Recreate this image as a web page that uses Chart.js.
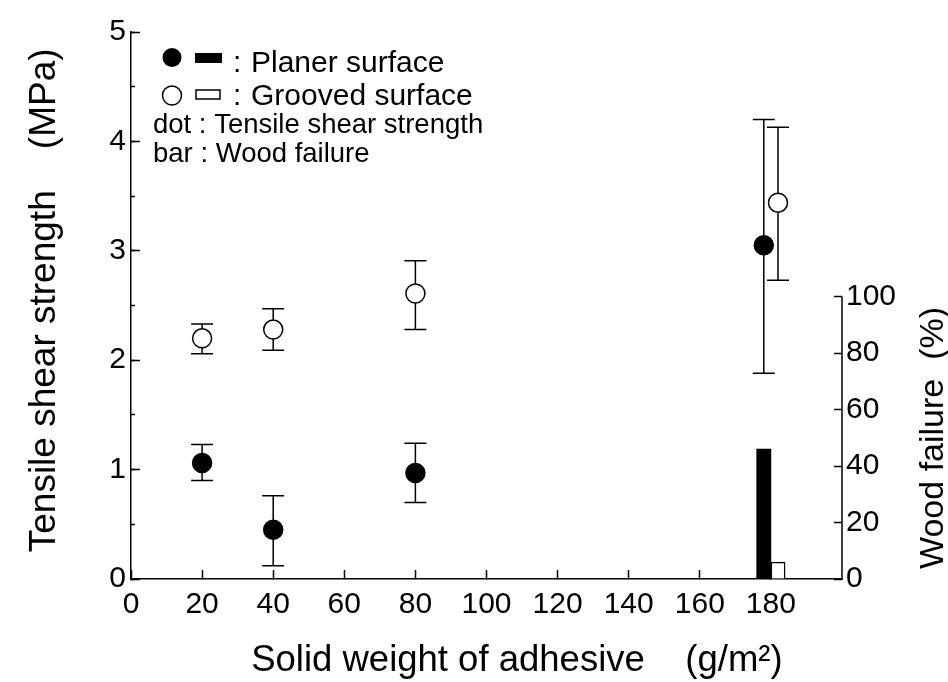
<!DOCTYPE html>
<html>
<head>
<meta charset="utf-8">
<script src="https://cdn.jsdelivr.net/npm/chart.js@4.4.0/dist/chart.umd.min.js"></script>
<style>
  html, body { margin: 0; padding: 0; background: #fff; }
  #wrap { width: 948px; height: 682px; }
</style>
</head>
<body>
<div id="wrap"><canvas id="chart" width="948" height="682"></canvas></div>
<script>
// Tensile shear strength (MPa), planer surface
const planerX = [20, 40, 80, 178];
const planerStrength = [1.06, 0.45, 0.97, 3.05];
const planerLow = [0.90, 0.12, 0.70, 1.88];
const planerHigh = [1.23, 0.76, 1.24, 4.20];

// Tensile shear strength (MPa), grooved surface
const groovedX = [20, 40, 80, 182];
const groovedStrength = [2.20, 2.28, 2.61, 3.44];
const groovedLow = [2.06, 2.09, 2.28, 2.73];
const groovedHigh = [2.33, 2.47, 2.91, 4.13];

// Wood failure (%)
const planerBarX = [178];
const planerFailure = [46];
const groovedBarX = [182];
const groovedFailure = [6];

// tick labels
const xTicks = [0, 20, 40, 60, 80, 100, 120, 140, 160, 180];
const leftTicks = [0, 1, 2, 3, 4, 5];
const leftMinorTicks = [0, 0.5, 1, 1.5, 2, 2.5, 3, 3.5, 4, 4.5, 5];
const rightTicks = [0, 20, 40, 60, 80, 100];

const seriesNames = ['Planer surface', 'Grooved surface'];
const noteLines = ['dot : Tensile shear strength', 'bar : Wood failure'];

const FONT = '"Liberation Sans", Arial, sans-serif';
Chart.defaults.font.family = FONT;
Chart.defaults.color = '#000';

const toPoints = (xs, ys) => xs.map((v, i) => ({ x: v, y: ys[i] }));
const useTicks = list => scale => { scale.ticks = list.map(v => ({ value: v })); };

// 误差线，画在点的下面
const errorBars = {
  id: 'errorBars',
  beforeDatasetsDraw(chart) {
    const { ctx, scales: { x, y } } = chart;
    ctx.save();
    ctx.strokeStyle = '#000';
    ctx.lineWidth = 1.5;
    [[planerX, planerLow, planerHigh], [groovedX, groovedLow, groovedHigh]].forEach(([xs, lo, hi]) => {
      xs.forEach((v, i) => {
        const px = x.getPixelForValue(v);
        const y1 = y.getPixelForValue(lo[i]);
        const y2 = y.getPixelForValue(hi[i]);
        ctx.beginPath();
        ctx.moveTo(px, y1); ctx.lineTo(px, y2);
        ctx.moveTo(px - 11, y1); ctx.lineTo(px + 11, y1);
        ctx.moveTo(px - 11, y2); ctx.lineTo(px + 11, y2);
        ctx.stroke();
      });
    });
    ctx.restore();
  }
};

// 右轴线只到100，图例和右轴标题
const extras = {
  id: 'extras',
  afterDraw(chart) {
    const { ctx, scales: { y2 } } = chart;
    ctx.save();
    ctx.strokeStyle = '#000';
    ctx.fillStyle = '#000';
    ctx.lineWidth = 1.5;
    ctx.beginPath();
    ctx.moveTo(y2.left, y2.getPixelForValue(0) + 0.75);
    ctx.lineTo(y2.left, y2.getPixelForValue(100));
    ctx.stroke();

    // legend
    ctx.beginPath(); ctx.arc(172, 57.5, 9.5, 0, Math.PI * 2); ctx.fill();
    ctx.fillRect(195, 53, 27, 10);
    ctx.beginPath(); ctx.arc(172, 95.5, 9.5, 0, Math.PI * 2); ctx.stroke();
    ctx.strokeRect(196, 90, 24, 9);

    ctx.textBaseline = 'alphabetic';
    ctx.textAlign = 'left';
    ctx.font = '30px ' + FONT;
    ctx.fillText(':', 233, 72);
    ctx.fillText(seriesNames[0], 251, 72);
    ctx.fillText(':', 233, 105);
    ctx.fillText(seriesNames[1], 251, 105);
    ctx.font = '27.5px ' + FONT;
    ctx.fillText(noteLines[0], 153, 133);
    ctx.fillText(noteLines[1], 153, 162);

    // right axis title, reads bottom to top
    ctx.font = '34px ' + FONT;
    ctx.translate(943, 438);
    ctx.rotate(-Math.PI / 2);
    ctx.textAlign = 'center';
    ctx.fillText('Wood failure  (%)', 0, 0);
    ctx.restore();
  }
};

new Chart(document.getElementById('chart'), {
  type: 'scatter',
  data: {
    datasets: [
      {
        label: 'Planer surface',
        data: toPoints(planerX, planerStrength),
        yAxisID: 'y',
        pointRadius: 9.5,
        pointBorderWidth: 1.5,
        backgroundColor: '#000',
        borderColor: '#000'
      },
      {
        label: 'Grooved surface',
        data: toPoints(groovedX, groovedStrength),
        yAxisID: 'y',
        pointRadius: 9.5,
        pointBorderWidth: 1.5,
        backgroundColor: '#fff',
        borderColor: '#000'
      },
      {
        type: 'bar',
        label: 'Planer wood failure',
        data: toPoints(planerBarX, planerFailure),
        yAxisID: 'y2',
        grouped: false,
        categoryPercentage: 1,
        barPercentage: 1,
        backgroundColor: '#000',
        borderWidth: 0
      },
      {
        type: 'bar',
        label: 'Grooved wood failure',
        data: toPoints(groovedBarX, groovedFailure),
        yAxisID: 'y2',
        grouped: false,
        categoryPercentage: 1,
        barPercentage: 1,
        backgroundColor: '#fff',
        borderColor: '#000',
        borderWidth: 1.5
      }
    ]
  },
  options: {
    responsive: false,
    animation: false,
    events: [],
    devicePixelRatio: 1,
    layout: { padding: { top: 29, left: 0, right: 0, bottom: 0 } },
    plugins: { legend: { display: false }, tooltip: { enabled: false } },
    scales: {
      x: {
        type: 'linear',
        position: 'bottom',
        min: 0,
        max: 200,
        offset: false,
        afterBuildTicks: useTicks(xTicks),
        afterFit: s => { s.height = 103; },
        border: { display: true, color: '#000', width: 1.5 },
        grid: { offset: false, drawOnChartArea: false, drawTicks: true, tickLength: -9, tickColor: '#000', tickWidth: 1.5 },
        ticks: { font: { size: 30 }, padding: 17, maxRotation: 0, autoSkip: false },
        title: {
          display: true,
          text: '      Solid weight of adhesive    (g/m\u00B2)',
          font: { size: 36.5 },
          padding: { top: 0, bottom: -1 }
        }
      },
      y: {
        type: 'linear',
        position: 'left',
        weight: 1,
        min: 0,
        max: 5,
        afterBuildTicks: useTicks(leftTicks),
        afterFit: s => { s.width = 131; },
        border: { display: true, color: '#000', width: 1.5 },
        grid: { drawOnChartArea: false, drawTicks: true, tickLength: -9, tickColor: '#000', tickWidth: 1.5 },
        ticks: { font: { size: 30 }, padding: 14 },
        title: {
          display: true,
          text: ' Tensile shear strength    (MPa)',
          font: { size: 37 },
          padding: { top: 23, bottom: 0 }
        }
      },
      yMinor: {
        type: 'linear',
        position: 'left',
        weight: 0,
        min: 0,
        max: 5,
        afterBuildTicks: useTicks(leftMinorTicks),
        afterFit: s => { s.width = 0; },
        border: { display: false },
        grid: { drawOnChartArea: false, drawTicks: true, tickLength: -4, tickColor: '#000', tickWidth: 1.5 },
        ticks: { display: false }
      },
      y2: {
        type: 'linear',
        position: 'right',
        min: 0,
        max: 193.7,
        afterBuildTicks: useTicks(rightTicks),
        afterFit: s => { s.width = 106; },
        border: { display: false },
        grid: { drawOnChartArea: false, drawTicks: true, tickLength: -8, tickColor: '#000', tickWidth: 1.5 },
        ticks: { font: { size: 30 }, padding: 12 }
      }
    }
  },
  plugins: [errorBars, extras]
});
</script>
</body>
</html>
